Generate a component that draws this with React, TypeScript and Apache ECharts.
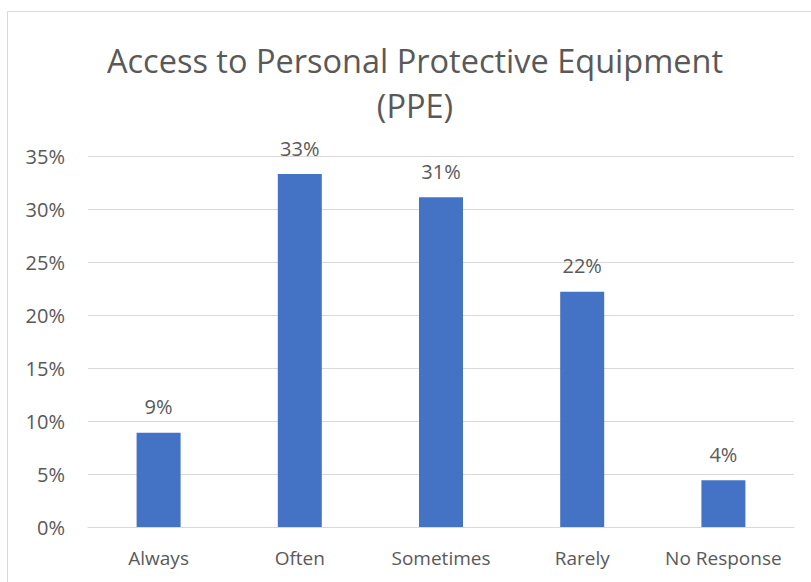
import React, { useEffect, useRef } from "react";
import * as echarts from "echarts";

const categories = ["Always", "Often", "Sometimes", "Rarely", "No Response"];
const shares = [8.9, 33.3, 31.1, 22.2, 4.4];
const yTicks = [0, 5, 10, 15, 20, 25, 30, 35];

const TEXT = "#595959";
const FONT = "'Open Sans', Lato, sans-serif";

export default function App() {
  const ref = useRef<HTMLDivElement>(null);

  useEffect(() => {
    if (!ref.current) return;
    const chart = echarts.init(ref.current, null, { renderer: "svg" });
    chart.setOption({
      animation: false,
      backgroundColor: "#ffffff",
      textStyle: { fontFamily: FONT },
      title: {
        text: "Access to Personal Protective Equipment\n(PPE)",
        left: 410,
        top: 33,
        textAlign: "center",
        textStyle: {
          fontFamily: FONT,
          fontSize: 32.5,
          fontWeight: "normal",
          color: TEXT,
          lineHeight: 45,
        },
      },
      graphic: [
        {
          type: "rect",
          shape: { x: 7.5, y: 11.5, width: 900, height: 700 },
          style: { fill: "none", stroke: "#d9d9d9", lineWidth: 1 },
          silent: true,
          z: -1,
        },
      ],
      grid: { left: 88, right: 17, top: 156, bottom: 55 },
      xAxis: {
        type: "category",
        data: categories,
        axisLine: { lineStyle: { color: "#d9d9d9", width: 1 } },
        axisTick: { show: false },
        axisLabel: {
          interval: 0,
          hideOverlap: false,
          color: TEXT,
          fontSize: 19,
          fontFamily: FONT,
          margin: 21,
        },
      },
      yAxis: {
        type: "value",
        min: 0,
        max: yTicks[yTicks.length - 1],
        interval: 5,
        axisLine: { show: false },
        axisTick: { show: false },
        splitLine: { lineStyle: { color: "#d9d9d9", width: 1 } },
        axisLabel: {
          color: TEXT,
          fontSize: 20,
          fontFamily: FONT,
          margin: 23,
          formatter: (v: number) => `${v}%`,
        },
      },
      series: [
        {
          type: "bar",
          data: shares,
          barWidth: 44,
          itemStyle: { color: "#4472C4" },
          label: {
            show: true,
            position: "top",
            distance: 16,
            color: TEXT,
            fontSize: 20,
            fontFamily: FONT,
            formatter: (p: any) => `${Math.round(p.value)}%`,
          },
        },
      ],
    });
    return () => chart.dispose();
  }, []);

  return (
    <div
      ref={ref}
      style={{ position: "fixed", left: 0, top: 0, width: 811, height: 582 }}
    />
  );
}
